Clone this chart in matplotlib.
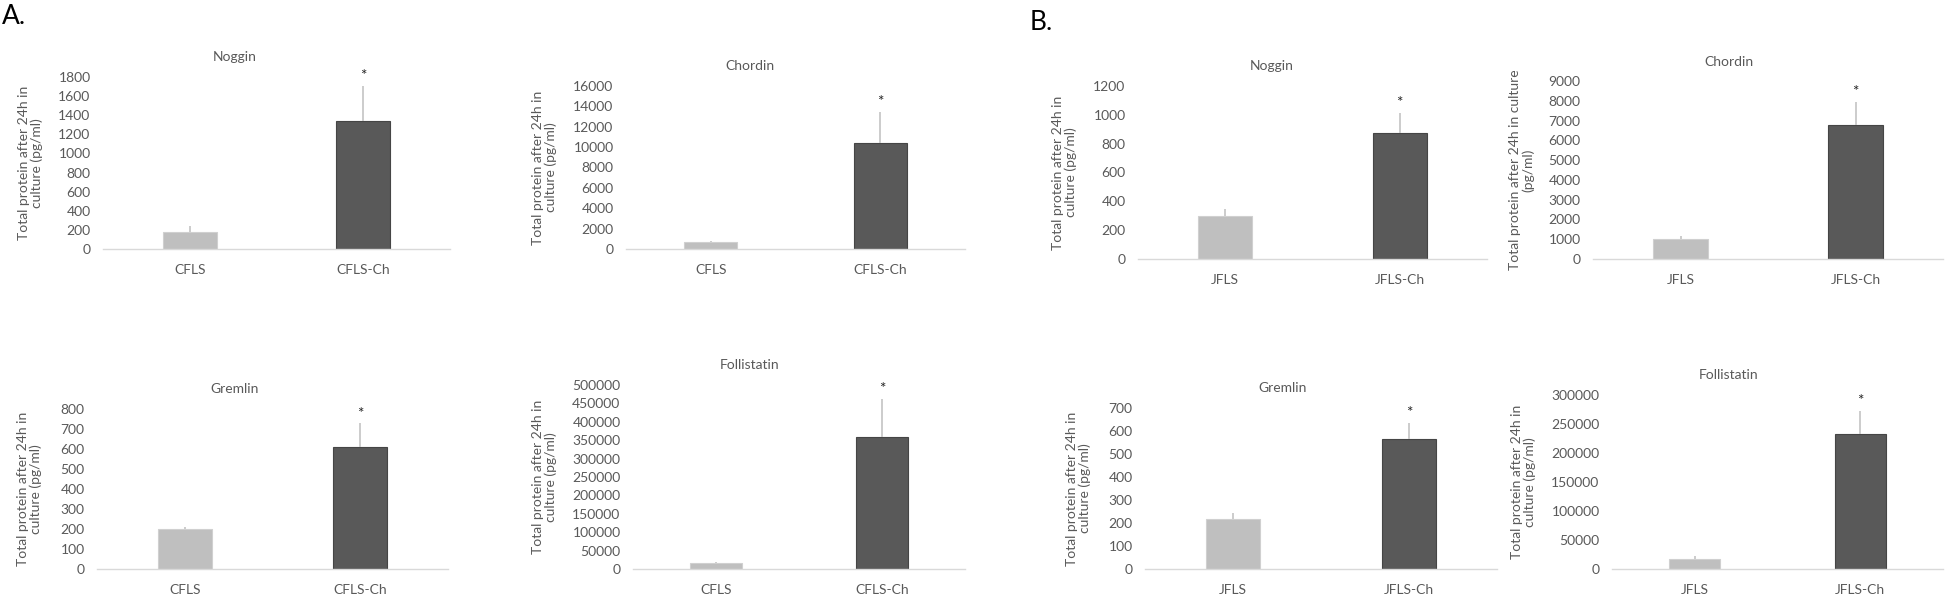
import numpy as np
import matplotlib
matplotlib.use('Agg')
import matplotlib.pyplot as plt

plt.rcParams['font.family'] = ['Lato', 'DejaVu Sans']

W, H = 1946, 597

# datos
grupos_A = ['CFLS', 'CFLS-Ch']
grupos_B = ['JFLS', 'JFLS-Ch']

titulos = ['Noggin', 'Chordin', 'Noggin', 'Chordin',
           'Gremlin', 'Follistatin', 'Gremlin', 'Follistatin']

noggin_A = [180, 1336]
noggin_A_err = [64, 373]
chordin_A = [650, 10450]
chordin_A_err = [120, 3040]
noggin_B = [297, 871]
noggin_B_err = [50, 144]
chordin_B = [1000, 6770]
chordin_B_err = [185, 1185]
gremlin_A = [201, 610]
gremlin_A_err = [10, 118]
follistatin_A = [16300, 359600]
follistatin_A_err = [2500, 103300]
gremlin_B = [219, 564]
gremlin_B_err = [23, 71]
follistatin_B = [17800, 232800]
follistatin_B_err = [4600, 40200]

ymax = [1800, 16000, 1200, 9000, 800, 500000, 700, 300000]
ystep = [200, 2000, 200, 1000, 100, 50000, 100, 50000]

ylab_1 = 'Total protein after 24h in\nculture (pg/ml)'
ylab_2 = 'Total protein after 24h in culture\n(pg/ml)'

paneles = [
    (grupos_A, noggin_A, noggin_A_err, ylab_1),
    (grupos_A, chordin_A, chordin_A_err, ylab_1),
    (grupos_B, noggin_B, noggin_B_err, ylab_1),
    (grupos_B, chordin_B, chordin_B_err, ylab_2),
    (grupos_A, gremlin_A, gremlin_A_err, ylab_1),
    (grupos_A, follistatin_A, follistatin_A_err, ylab_1),
    (grupos_B, gremlin_B, gremlin_B_err, ylab_1),
    (grupos_B, follistatin_B, follistatin_B_err, ylab_1),
]

# cajas de ejes en pixeles: x0, x1, y_top, y_bottom (desde arriba)
cajas = [
    (103, 450, 77, 249),
    (626, 965, 86, 249),
    (1138, 1487, 86, 259),
    (1593, 1943, 81, 259),
    (97, 448, 409, 569),
    (633, 965, 385, 569),
    (1145, 1497, 408, 569),
    (1612, 1943, 395, 569),
]
# centro x de la etiqueta y, y posicion del titulo (px)
ylab_x = [43, 557, 1077, 1534, 42, 557, 1091, 1536]
titulo_pos = [(235, 57), (750, 66), (1272, 66), (1729, 62),
              (235, 389), (750, 365), (1283, 388), (1729, 375)]

gris_txt = '#595959'
claro = '#BFBFBF'
oscuro = '#595959'

fig = plt.figure(figsize=(W / 100, H / 100), dpi=100)

for i, (grupos, medias, errs, ylab) in enumerate(paneles):
    x0, x1, yt, yb = cajas[i]
    ax = fig.add_axes([x0 / W, 1 - yb / H, (x1 - x0) / W, (yb - yt) / H])
    x = np.arange(len(grupos))
    ax.bar(x, medias, width=0.31, color=[claro, oscuro],
           edgecolor=['#D0D0D0', '#454545'], linewidth=0.8, zorder=2)
    ax.errorbar(x, medias, yerr=[[0, 0], errs], fmt='none',
                ecolor='#C8C8C8', elinewidth=1.3, capsize=0, zorder=3)
    # asterisco de significancia sobre la barra tratada
    ax.annotate('*', (x[1], medias[1] + errs[1]), xytext=(0, 2),
                textcoords='offset points', ha='center', va='bottom',
                fontsize=11, color='#222222')
    ax.set_xlim(-0.5, 1.5)
    ax.set_ylim(0, ymax[i])
    ax.set_yticks(np.arange(0, ymax[i] + 1, ystep[i]))
    ax.set_xticks(x)
    ax.set_xticklabels(grupos)
    ax.tick_params(axis='both', length=0, labelsize=10, colors=gris_txt)
    ax.tick_params(axis='y', pad=9)
    ax.tick_params(axis='x', pad=11)
    for s in ['left', 'right', 'top']:
        ax.spines[s].set_visible(False)
    ax.spines['bottom'].set_color('#D9D9D9')
    ax.spines['bottom'].set_linewidth(1.0)
    ax.set_ylabel(ylab, fontsize=10, color=gris_txt, linespacing=1.05)
    ax.yaxis.set_label_coords((ylab_x[i] - x0) / (x1 - x0), 0.5)
    tx, ty = titulo_pos[i]
    fig.text(tx / W, 1 - ty / H, titulos[i], ha='center', va='center',
             fontsize=10, color=gris_txt)

fig.text(2 / W, 1 - 17 / H, 'A.', fontsize=19, ha='left', va='center')
fig.text(1030 / W, 1 - 23 / H, 'B.', fontsize=19, ha='left', va='center')

fig.savefig('out.png', dpi=100)
